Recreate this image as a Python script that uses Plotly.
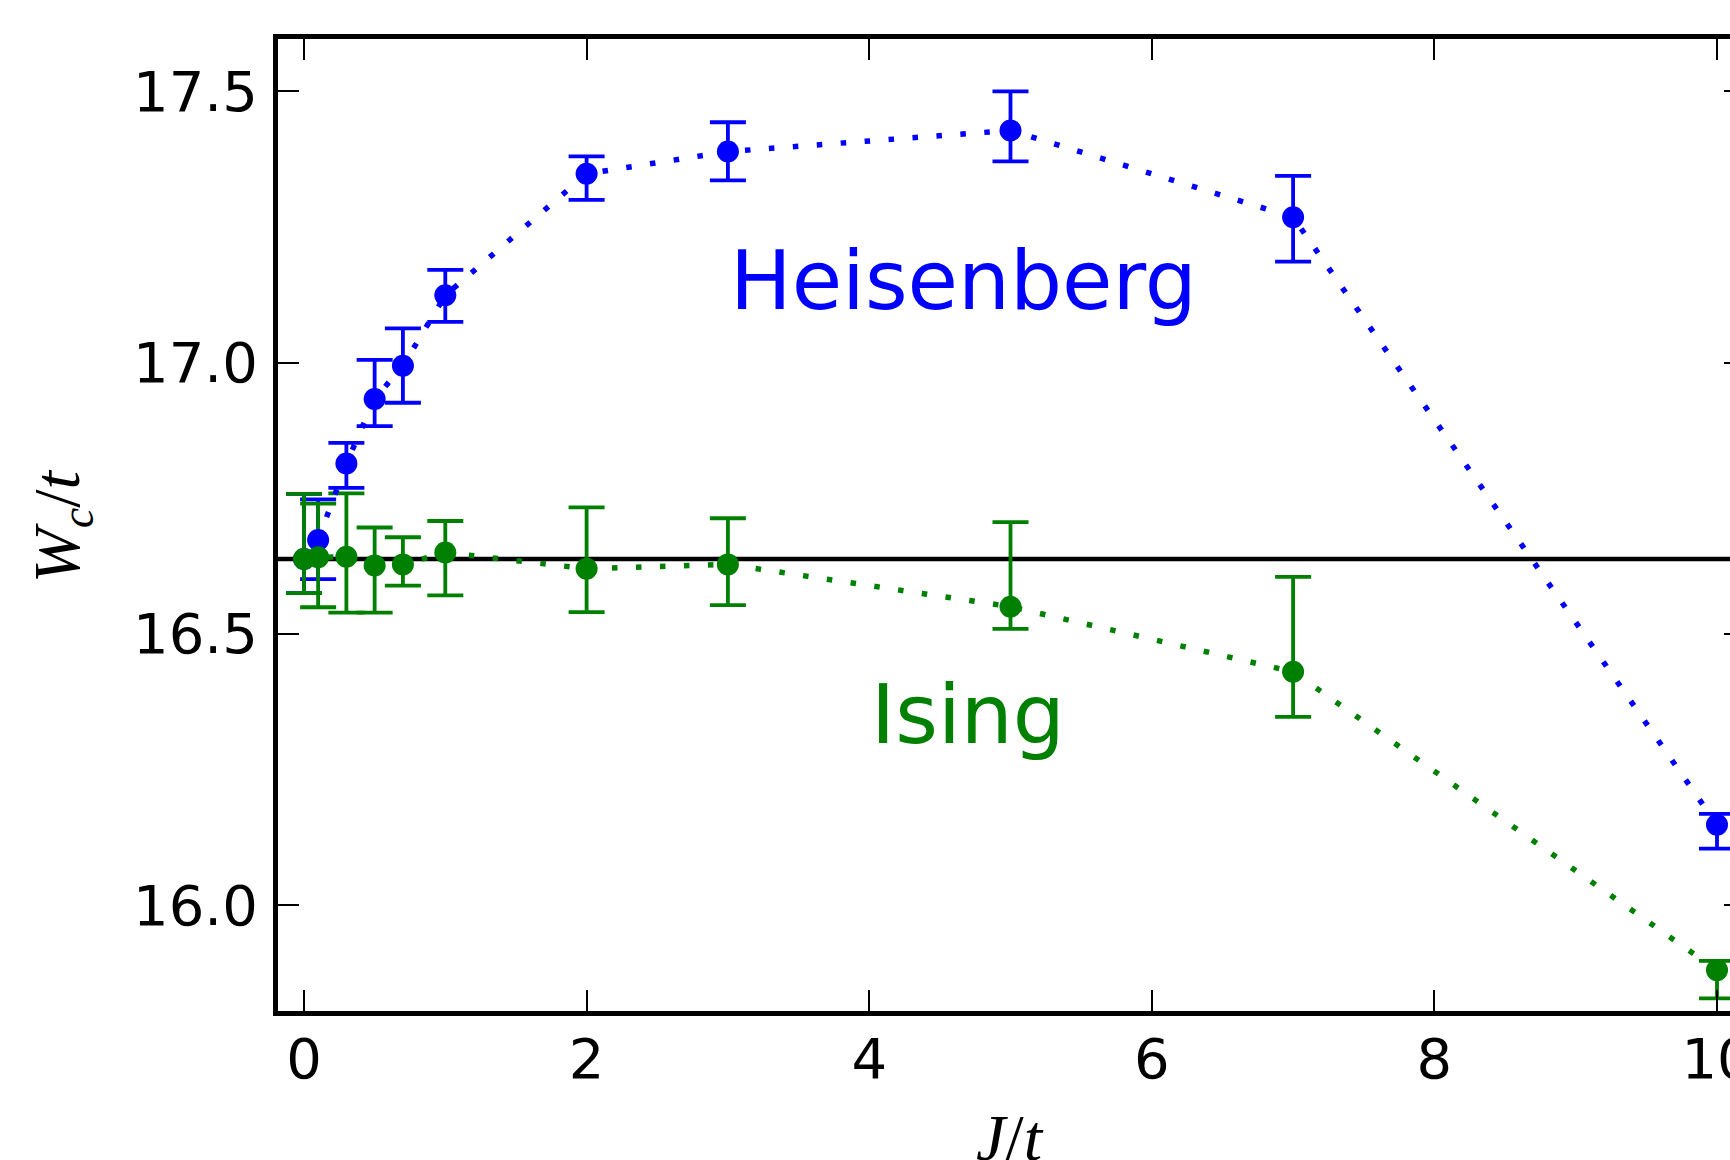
import plotly.graph_objects as go

# ---------------- data ----------------
J = [0, 0.1, 0.3, 0.5, 0.7, 1, 2, 3, 5, 7, 10]

heis_W = [16.638, 16.673, 16.814, 16.933, 16.994, 17.124, 17.348, 17.389, 17.428, 17.268, 16.148]
heis_plus = [0.120, 0.075, 0.038, 0.072, 0.069, 0.047, 0.032, 0.054, 0.072, 0.076, 0.020]
heis_minus = [0.063, 0.072, 0.045, 0.050, 0.068, 0.049, 0.048, 0.053, 0.057, 0.082, 0.044]

ising_W = [16.638, 16.641, 16.642, 16.626, 16.628, 16.650, 16.620, 16.628, 16.550, 16.430, 15.880]
ising_plus = [0.120, 0.099, 0.117, 0.070, 0.050, 0.058, 0.113, 0.085, 0.156, 0.175, 0.017]
ising_minus = [0.063, 0.092, 0.103, 0.087, 0.039, 0.079, 0.080, 0.075, 0.041, 0.083, 0.052]

W_ref = 16.638  # J = 0 reference value

x_ticks = [0, 2, 4, 6, 8, 10]
x_ticklabels = ["0", "2", "4", "6", "8", "10"]
y_ticks = [16.0, 16.5, 17.0, 17.5]
y_ticklabels = ["16.0", "16.5", "17.0", "17.5"]

BLUE = "#0000ff"
GREEN = "#008000"

# ---------------- figure ----------------
fig = go.Figure()


def err(plus, minus, color):
    return dict(type="data", symmetric=False, array=plus, arrayminus=minus,
                color=color, thickness=3.8, width=18, visible=True)


# error bars first (drawn beneath the markers of both series)
fig.add_trace(go.Scatter(x=J, y=heis_W, mode="markers",
                         marker=dict(size=1, opacity=0, color=BLUE),
                         error_y=err(heis_plus, heis_minus, BLUE),
                         showlegend=False, hoverinfo="skip"))
fig.add_trace(go.Scatter(x=J, y=ising_W, mode="markers",
                         marker=dict(size=1, opacity=0, color=GREEN),
                         error_y=err(ising_plus, ising_minus, GREEN),
                         showlegend=False, hoverinfo="skip"))
# lines + markers
fig.add_trace(go.Scatter(x=J, y=heis_W, mode="lines+markers", name="Heisenberg",
                         line=dict(color=BLUE, width=5.5, dash="5.5px,18.5px"),
                         marker=dict(size=22, color=BLUE),
                         showlegend=False))
fig.add_trace(go.Scatter(x=J, y=ising_W, mode="lines+markers", name="Ising",
                         line=dict(color=GREEN, width=5.5, dash="5.5px,18.5px"),
                         marker=dict(size=22, color=GREEN),
                         showlegend=False))
# dummy trace for right-hand tick marks
fig.add_trace(go.Scatter(x=[None], y=[None], yaxis="y2", showlegend=False,
                         hoverinfo="skip"))

# horizontal reference line
fig.add_shape(type="line", xref="paper", x0=0, x1=1, yref="y", y0=W_ref, y1=W_ref,
              line=dict(color="black", width=4.5), layer="below")

tickfont = dict(family="DejaVu Sans", size=56, color="black")

fig.update_layout(
    width=1730, height=1160,
    margin=dict(l=278, r=0, t=38.5, b=148.5, autoexpand=False),
    plot_bgcolor="white", paper_bgcolor="white",
    xaxis=dict(range=[-0.184, 10.092], tickvals=x_ticks, ticktext=x_ticklabels,
               ticks="inside", ticklen=21, tickwidth=2, tickcolor="black",
               showline=True, linewidth=5, linecolor="black", mirror="ticks",
               showgrid=False, zeroline=False, tickfont=tickfont,
               ticklabelstandoff=-5, ticklabeloverflow="allow"),
    yaxis=dict(range=[15.8047, 17.5965], tickvals=y_ticks, ticktext=y_ticklabels,
               ticks="inside", ticklen=21, tickwidth=2, tickcolor="black",
               showline=True, linewidth=5, linecolor="black", mirror=False,
               showgrid=False, zeroline=False, tickfont=tickfont,
               ticklabelstandoff=4, ticklabeloverflow="allow"),
    yaxis2=dict(overlaying="y", side="right", matches="y",
                tickvals=y_ticks, ticks="inside", ticklen=6, tickwidth=2,
                tickcolor="black", showticklabels=False, showline=False,
                showgrid=False, zeroline=False),
    annotations=[
        dict(text="Heisenberg", x=3, y=17.151, xref="x", yref="y",
             xanchor="left", yanchor="middle", showarrow=False,
             font=dict(family="DejaVu Sans", size=82, color=BLUE)),
        dict(text="Ising", x=4, y=16.351, xref="x", yref="y",
             xanchor="left", yanchor="middle", showarrow=False,
             font=dict(family="DejaVu Sans", size=82, color=GREEN)),
        dict(text="<i>J</i>/<i>t</i>", x=0.5044, y=-0.0906, xref="paper", yref="paper",
             xanchor="center", yanchor="top", showarrow=False,
             font=dict(family="Liberation Serif", size=66, color="black")),
        dict(text="<i>W</i><sub><i>c</i></sub>/<i>t</i>", x=-0.149, y=0.4983,
             xref="paper", yref="paper", textangle=-90,
             xanchor="center", yanchor="middle", showarrow=False,
             font=dict(family="Liberation Serif", size=66, color="black")),
    ],
)

fig.write_html("out.html", config={"displayModeBar": False},
               post_script="document.body.style.margin='0px';document.body.style.overflow='hidden';")
